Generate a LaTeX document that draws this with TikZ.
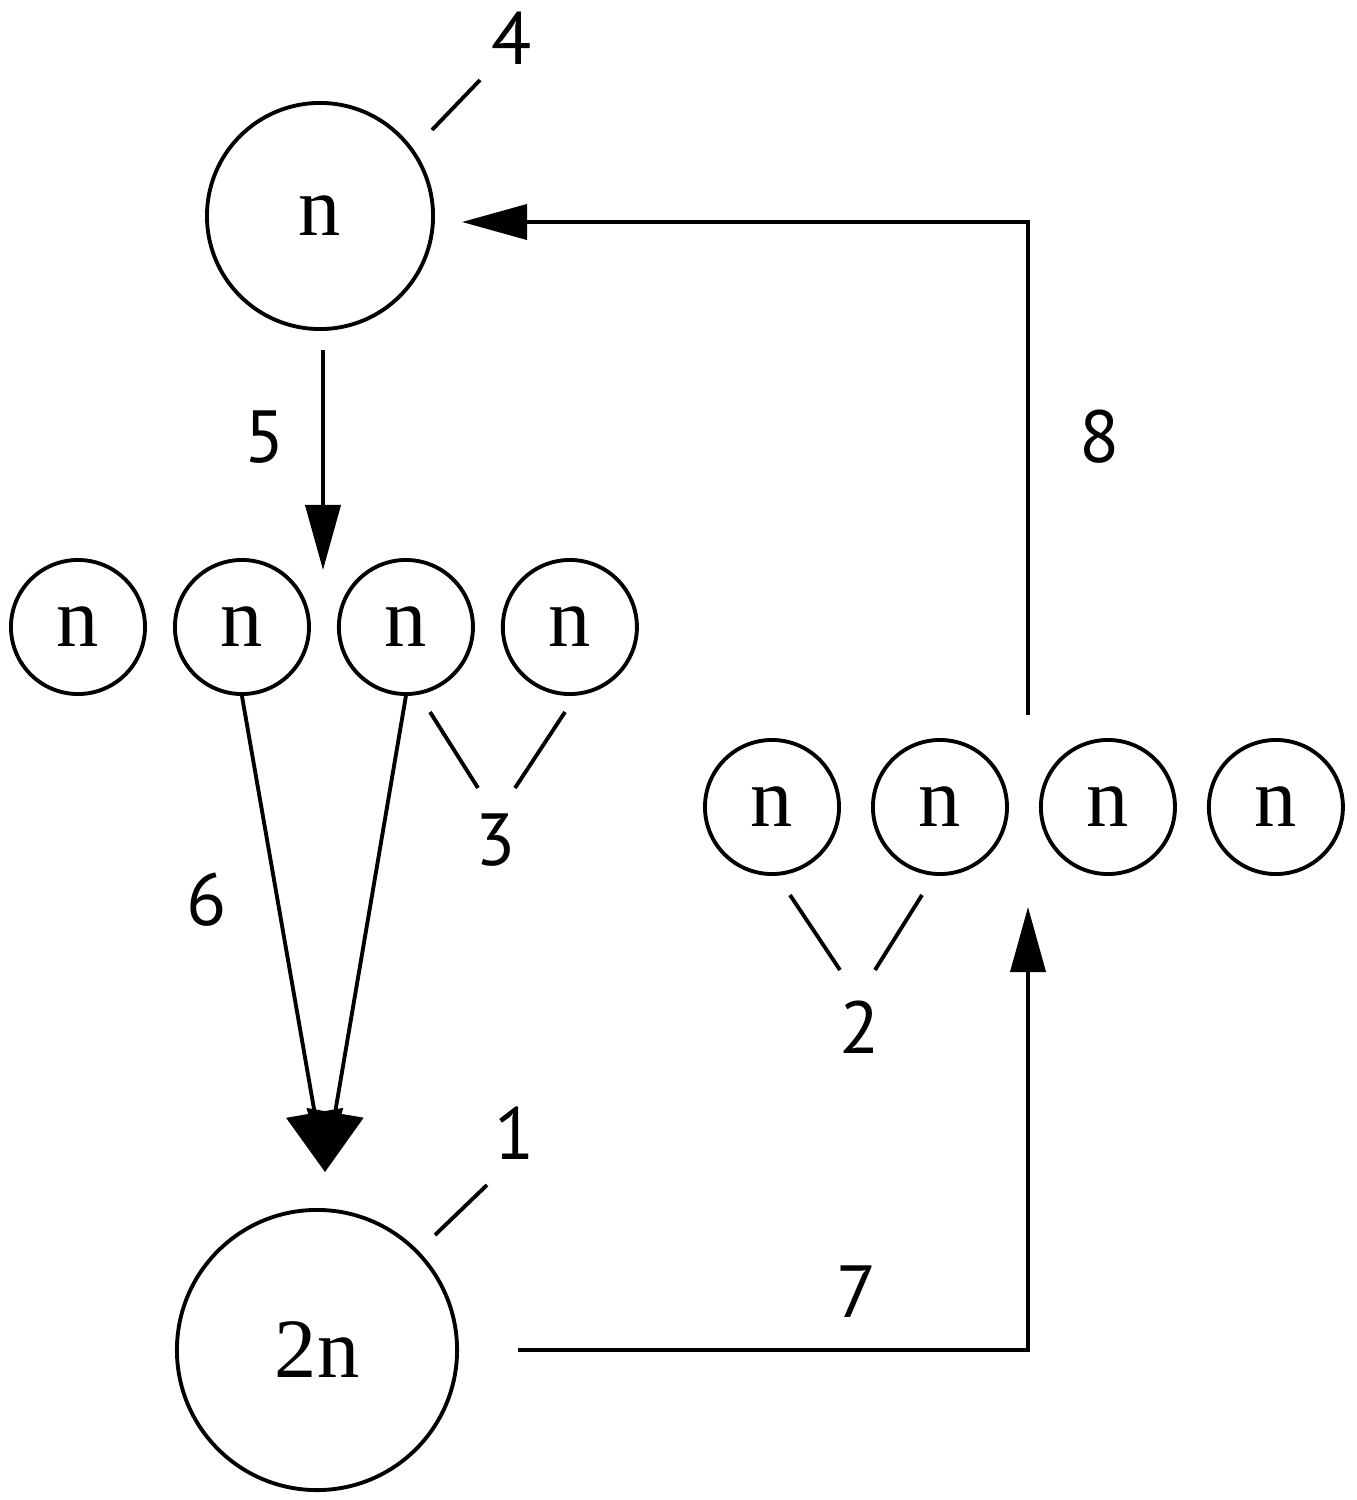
\documentclass[tikz,border=0pt]{standalone}
\usepackage{fontspec}
\setmainfont{Liberation Serif}
\newfontfamily\numfont{PT Sans}
\usetikzlibrary{positioning,arrows.meta}

\tikzset{
    ring/.style={circle, draw, line width=1.1pt, inner sep=0pt, font=\fontsize{24}{24}\selectfont},
    bigring/.style={ring, minimum size=2.26cm},
    hugering/.style={ring, minimum size=2.8cm},
    smallring/.style={ring, minimum size=1.34cm},
    num/.style={inner sep=0pt, font=\numfont\fontsize{21}{21}\selectfont},
    leader/.style={line width=1.1pt},
    flow/.style={line width=1.1pt, -{Triangle[length=0.65cm,width=0.35cm]}},
    merge/.style={line width=1.1pt, -{Triangle[length=0.6cm,width=0.57cm]}},
}

\begin{document}
\begin{tikzpicture}[x=0.01cm, y=-0.01cm]
    \useasboundingbox (0,0) rectangle (1356,1500);
    % big cells
    \node[bigring] (top) at (320,216) {n};
    \node[hugering] (bot) at (317,1350) {2n};
    % first row
    \node[smallring] (a1) at (78,627) {n};
    \node[smallring, right=0.26cm of a1] (a2) {n};
    \node[smallring, right=0.26cm of a2] (a3) {n};
    \node[smallring, right=0.26cm of a3] (a4) {n};
    % second row
    \node[smallring] (b1) at (772,807) {n};
    \node[smallring, right=0.3cm of b1] (b2) {n};
    \node[smallring, right=0.3cm of b2] (b3) {n};
    \node[smallring, right=0.3cm of b3] (b4) {n};
    % labels
    \node[num] (n4) at (512,38) {4};
    \node[num] (n5) at (265,437) {5};
    \node[num] (n3) at (496,840) {3};
    \node[num] (n6) at (207,900) {6};
    \node[num] (n2) at (860,1027) {2};
    \node[num] (n1) at (515,1133) {1};
    \node[num] (n7) at (857,1292) {7};
    \node[num] (n8) at (1100,437) {8};
    % leader lines
    \coordinate (l4a) at (432,130);  \coordinate (l4b) at (480,80);
    \coordinate (l3a) at (430,712);  \coordinate (l3b) at (478,788);
    \coordinate (l3c) at (565,712);  \coordinate (l3d) at (515,788);
    \coordinate (l2a) at (790,895);  \coordinate (l2b) at (840,970);
    \coordinate (l2c) at (922,895);  \coordinate (l2d) at (875,970);
    \coordinate (l1a) at (435,1235); \coordinate (l1b) at (487,1185);
    \draw[leader] (l4a) -- (l4b);
    \draw[leader] (l3a) -- (l3b);
    \draw[leader] (l3c) -- (l3d);
    \draw[leader] (l2a) -- (l2b);
    \draw[leader] (l2c) -- (l2d);
    \draw[leader] (l1a) -- (l1b);
    % flow
    \coordinate (tip5) at (323,570);
    \coordinate (tip6) at (325,1172);
    \coordinate (tip7) at (1028,907);
    \coordinate (tip8) at (462,222);
    \coordinate (s5) at (323,350);
    \coordinate (s7) at (518,1350);
    \coordinate (s8) at (1028,715);
    \draw[flow] (s5) -- (tip5);
    \draw[merge] (a2.south) -- (tip6);
    \draw[merge] (a3.south) -- (tip6);
    \draw[flow] (s7) -| (tip7);
    \draw[flow] (s8) |- (tip8);
\end{tikzpicture}
\end{document}
